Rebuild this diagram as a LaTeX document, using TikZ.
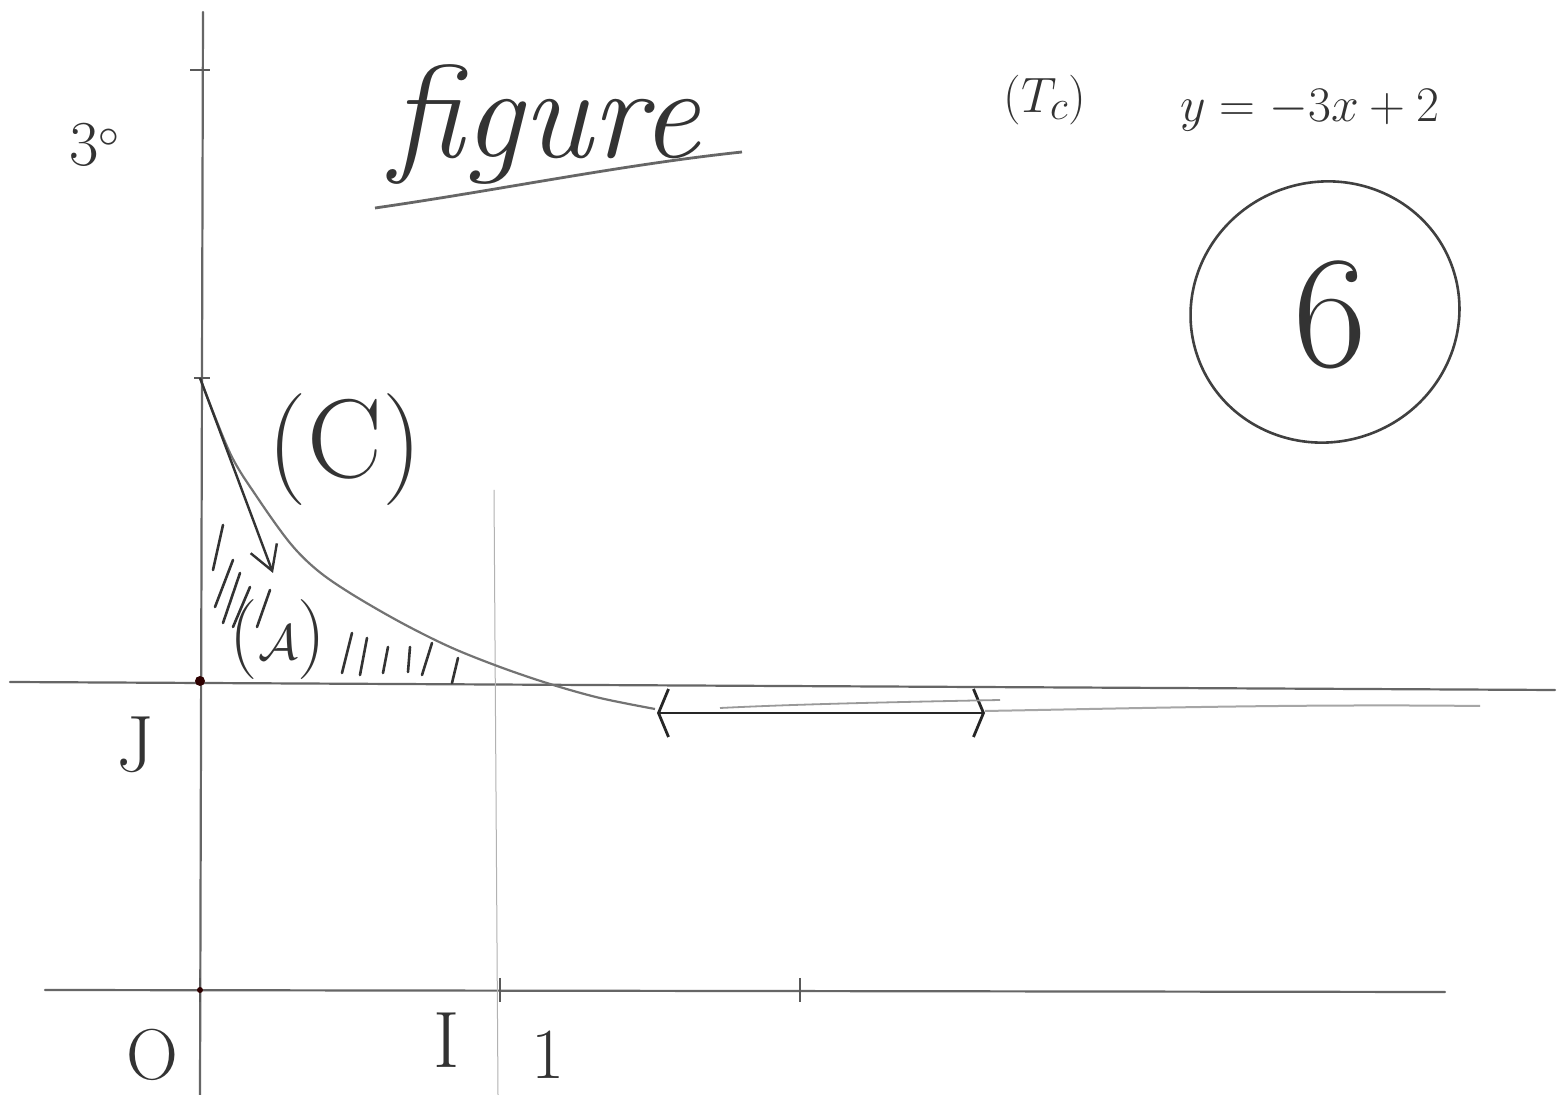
\documentclass[tikz,border=0pt]{standalone}
\usetikzlibrary{arrows.meta,shapes.geometric}
\begin{document}
\begin{tikzpicture}[x=0.5pt,y=-0.5pt,
  pencil/.style={draw=black!60, line width=1.1pt, line cap=round},
  faint/.style={draw=black!30, line width=0.5pt},
  hatch/.style={draw=black!80, line width=1.3pt, line cap=round},
  hand/.style={text=black!80, inner sep=0pt},
  tickmark/.style={draw=black!65, line width=1.1pt}]
\useasboundingbox (0,0) rectangle (1559,1095);
\fill[white] (0,0) rectangle (1559,1095);

% axes
\coordinate (ytop) at (203,12);
\coordinate (ybot) at (200,1095);
\coordinate (xl) at (45,990);
\coordinate (xr) at (1445,992);
\coordinate (jl) at (10,682);
\coordinate (jr) at (1555,690);
\draw[pencil] (ytop) -- (ybot);
\draw[pencil] (xl) -- (xr);
\draw[pencil] (jl) -- (jr);
\coordinate (vtop) at (494,490);
\coordinate (vbot) at (498,1095);
\draw[faint] (vtop) -- (vbot);

% ticks
\draw[tickmark] (190,70) -- (210,70);
\draw[tickmark] (194,378) -- (210,378);
\draw[tickmark] (200,978) -- (200,1002);
\draw[tickmark] (500,978) -- (500,1002);
\draw[tickmark] (800,978) -- (800,1002);
\fill[black!70!red!60!black] (200,681) circle (5);
\fill[black!70!red!60!black] (200,990) circle (3);

% curve (C)
\coordinate (A0) at (200,378);
\draw[draw=black!55, line width=1.1pt] plot[smooth, tension=0.55] coordinates
  {(A0) (230,453) (257,497) (290,543) (317,570) (350,593) (400,622) (450,647) (500,667) (550,684) (600,698) (655,709)};
% asymptotic segment with double arrow
\coordinate (arL) at (657,713);
\coordinate (arR) at (985,713);
\draw[draw=black!85, line width=1.4pt, {Straight Barb[length=5pt,width=24pt]}-{Straight Barb[length=5pt,width=24pt]}] (arL) -- (arR);
\draw[draw=black!35, line width=1pt] (985,711) .. controls (1150,708) and (1300,704) .. (1480,706);
\draw[draw=black!40, line width=0.9pt] (720,708) .. controls (800,704) and (900,702) .. (1000,700);

% tangent arrow
\coordinate (tg) at (273,573);
\draw[draw=black!80, line width=1.2pt, -{Straight Barb[length=12pt,width=14pt]}] (A0) -- (tg);

% hatching
\foreach \a/\b/\c/\d in {213/570/223/525, 215/607/233/560, 223/623/240/573, 233/627/250/587, 257/627/270/590,
  342/673/352/633, 360/675/367/638, 383/673/388/647, 408/672/410/647, 422/675/432/643, 452/683/458/658}
  \draw[hatch] (\a,\b) -- (\c,\d);

% labels
\node[hand, font=\fontsize{32}{32}\selectfont] (three) at (95,145) {3$^{\circ}$};
\node[hand, font=\itshape\fontsize{66}{66}\selectfont] (fig) at (545,125) {figure};
\coordinate (ulA) at (375,208);
\coordinate (ulB) at (742,152);
\draw[draw=black!60, line width=1.4pt] (ulA) .. controls (500,190) and (620,165) .. (ulB);
\node[hand, font=\fontsize{30}{30}\selectfont] (tc) at (1045,100) {$(T_c)$};
\node[hand, font=\fontsize{30}{30}\selectfont] (eq) at (1310,110) {$y=-3x+2$};
\node[draw=black!75, line width=1.3pt, ellipse, minimum width=135pt, minimum height=130pt, rotate=20] (circ) at (1325,312) {};
\node[hand, font=\fontsize{80}{80}\selectfont] (six) at (1330,315) {6};
\node[hand, font=\fontsize{56}{56}\selectfont] (C) at (345,450) {(C)};
\node[hand, font=\fontsize{40}{40}\selectfont] (Aarea) at (278,640) {($\mathcal{A}$)};
\node[hand, font=\fontsize{40}{40}\selectfont] (J) at (135,745) {J};
\node[hand, font=\fontsize{36}{36}\selectfont] (O) at (152,1055) {O};
\node[hand, font=\fontsize{40}{40}\selectfont] (I) at (447,1040) {I};
\node[hand, font=\fontsize{36}{36}\selectfont] (one) at (548,1055) {1};
\end{tikzpicture}
\end{document}
